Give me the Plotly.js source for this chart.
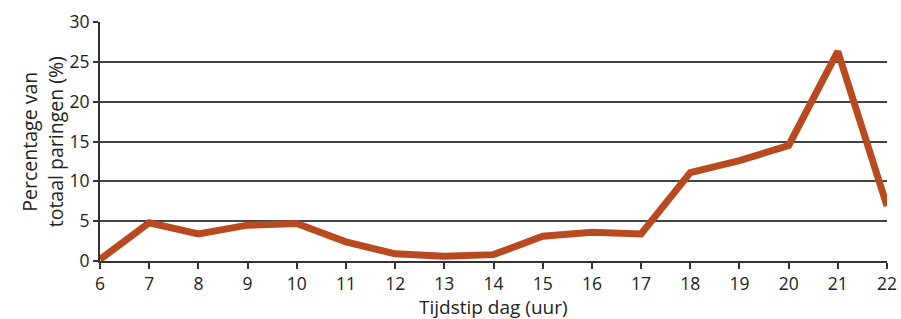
<!DOCTYPE html>
<html>
<head>
<meta charset="utf-8">
<script src="https://cdn.plot.ly/plotly-3.0.1.min.js"></script>
<style>html,body{margin:0;padding:0;background:#fff;}#chart{width:901px;height:319px;}</style>
</head>
<body>
<div id="chart"></div>
<script>
const hours = [6,7,8,9,10,11,12,13,14,15,16,17,18,19,20,21,22];
const percentages = [0.2,4.8,3.4,4.5,4.7,2.4,0.9,0.6,0.8,3.1,3.6,3.4,11.1,12.6,14.5,26.3,6.9];
const yTicks = [0,5,10,15,20,25,30];
const xTitle = 'Tijdstip dag (uur)';
const yTitle = 'Percentage van<br>totaal paringen (%)';

Plotly.newPlot('chart', [{
  x: hours, y: percentages, type: 'scatter', mode: 'lines',
  line: {color: '#b94a20', width: 7},
  hoverinfo: 'skip'
}], {
  width: 901, height: 319,
  margin: {l: 100, r: 14, t: 22, b: 58},
  paper_bgcolor: '#fff', plot_bgcolor: '#fff',
  font: {family: 'Open Sans, sans-serif', color: '#222', size: 18},
  showlegend: false,
  xaxis: {
    range: [6, 22], tickvals: hours, ticktext: hours.map(String),
    showgrid: false, zeroline: false,
    showline: true, linecolor: '#333', linewidth: 2,
    ticks: 'outside', ticklen: 6, tickcolor: '#333', tickwidth: 2,
    tickfont: {size: 17.5}
  },
  yaxis: {
    range: [0, 30], tickvals: yTicks,
    showgrid: true, gridcolor: '#444', gridwidth: 2, zeroline: false,
    showline: true, linecolor: '#333', linewidth: 2,
    ticks: 'outside', ticklen: 5, tickcolor: '#333', tickwidth: 2,
    tickfont: {size: 17.5}
  },
  annotations: [
    {text: xTitle, xref: 'paper', yref: 'paper', x: 0.5, y: -0.128,
     xanchor: 'center', yanchor: 'top', showarrow: false, font: {size: 19}},
    {text: yTitle, xref: 'paper', yref: 'paper', x: -0.074, y: 0.5,
     xanchor: 'center', yanchor: 'middle', textangle: -90, showarrow: false,
     font: {size: 19.5}}
  ]
}, {staticPlot: true});
</script>
</body>
</html>
